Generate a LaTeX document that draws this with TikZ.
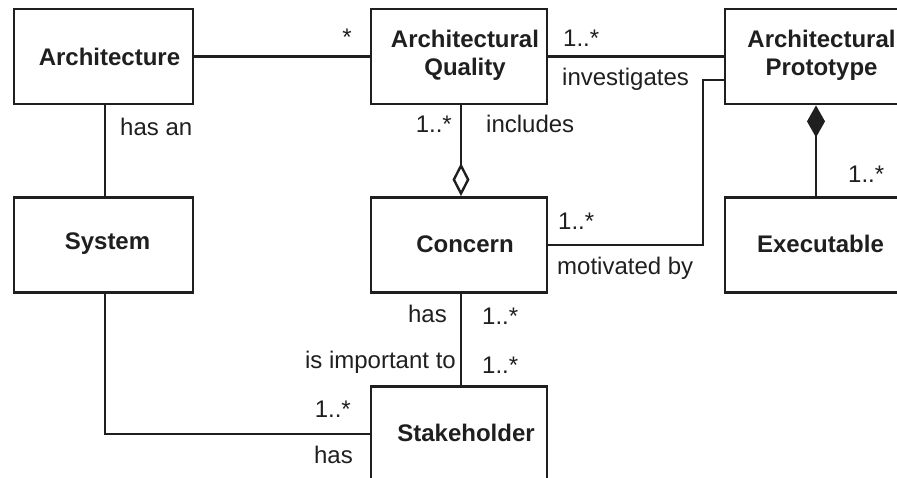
\documentclass[tikz,border=0pt]{standalone}
\usepackage{fontspec}
\setmainfont{Liberation Sans}
\usetikzlibrary{arrows.meta}
\begin{document}
\begin{tikzpicture}[x=1pt,y=-1pt,
  cls/.style={draw=black!88, line width=2.8pt, minimum width=176pt, minimum height=95pt,
    inner sep=0pt},
  ctext/.style={font=\fontsize{24}{28.5}\selectfont\bfseries, align=center, text=black!88, inner sep=0pt},
  conn/.style={line width=2.4pt, draw=black!88},
  lbl/.style={font=\fontsize{24}{29}\selectfont, inner sep=0pt, text=black!88}]
\useasboundingbox (0,0) rectangle (897,478);

\node[cls, minimum width=179pt, label={[ctext, xshift=6pt]center:Architecture}] (arch) at (103.5,56.5) {};
\node[cls, label={[ctext, xshift=6pt, yshift=1pt]center:{Architectural\\Quality}}] (aq) at (459,56.5) {};
\node[cls, minimum width=215pt, label={[ctext, xshift=-11pt, yshift=1pt]center:{Architectural\\Prototype}}] (proto) at (832.5,56.5) {};
\node[cls, minimum width=179pt, label={[ctext, xshift=4pt, yshift=1pt]center:System}] (sys) at (103.5,245) {};
\node[cls, label={[ctext, xshift=6pt, yshift=1pt]center:Concern}] (con) at (459,245) {};
\node[cls, minimum width=215pt, label={[ctext, xshift=-12pt, yshift=1pt]center:Executable}] (exe) at (832.5,245) {};
\node[cls, label={[ctext, xshift=7pt, yshift=1pt]center:Stakeholder}] (stk) at (459,434) {};

\coordinate (bend) at (703,80);
\coordinate (pdrop) at (816,104);

\draw[conn] (arch) -- (aq);
\draw[conn] (aq) -- (proto);
\draw[conn] ([xshift=1.5pt]arch.south) -- ([xshift=1.5pt]sys.north);
\draw[conn] ([xshift=1.5pt]sys.south) |- (stk.west);
\draw[conn, -{Diamond[open, length=33pt, width=17pt]}] ([xshift=2pt]aq.south) -- ([xshift=2pt]con.north);
\draw[conn] (con.east) -| (bend) -- (proto.west |- bend);
\draw[conn, {Diamond[length=32pt, width=18pt]}-] (proto.south -| pdrop) -- (exe.north -| pdrop);
\draw[conn] ([xshift=2pt]con.south) -- ([xshift=2pt]stk.north);

\node[lbl, anchor=base] (m1) at (347,46) {*};
\node[lbl, anchor=base west] (m2) at (120,136) {has an};
\node[lbl, anchor=base west] (m3) at (563,47) {1..*};
\node[lbl, anchor=base west] (m4) at (562,86) {investigates};
\node[lbl, anchor=base east] (m5) at (452,133) {1..*};
\node[lbl, anchor=base west] (m6) at (486,133) {includes};
\node[lbl, anchor=base west] (m7) at (848,183) {1..*};
\node[lbl, anchor=base west] (m8) at (558,230) {1..*};
\node[lbl, anchor=base west] (m9) at (557,275) {motivated by};
\node[lbl, anchor=base east] (m10) at (447,323) {has};
\node[lbl, anchor=base west] (m11) at (482,325) {1..*};
\node[lbl, anchor=base east] (m12) at (456,368) {is important to};
\node[lbl, anchor=base west] (m13) at (482,373) {1..*};
\node[lbl, anchor=base east] (m14) at (351,417) {1..*};
\node[lbl, anchor=base east] (m15) at (353,463) {has};
\end{tikzpicture}
\end{document}
